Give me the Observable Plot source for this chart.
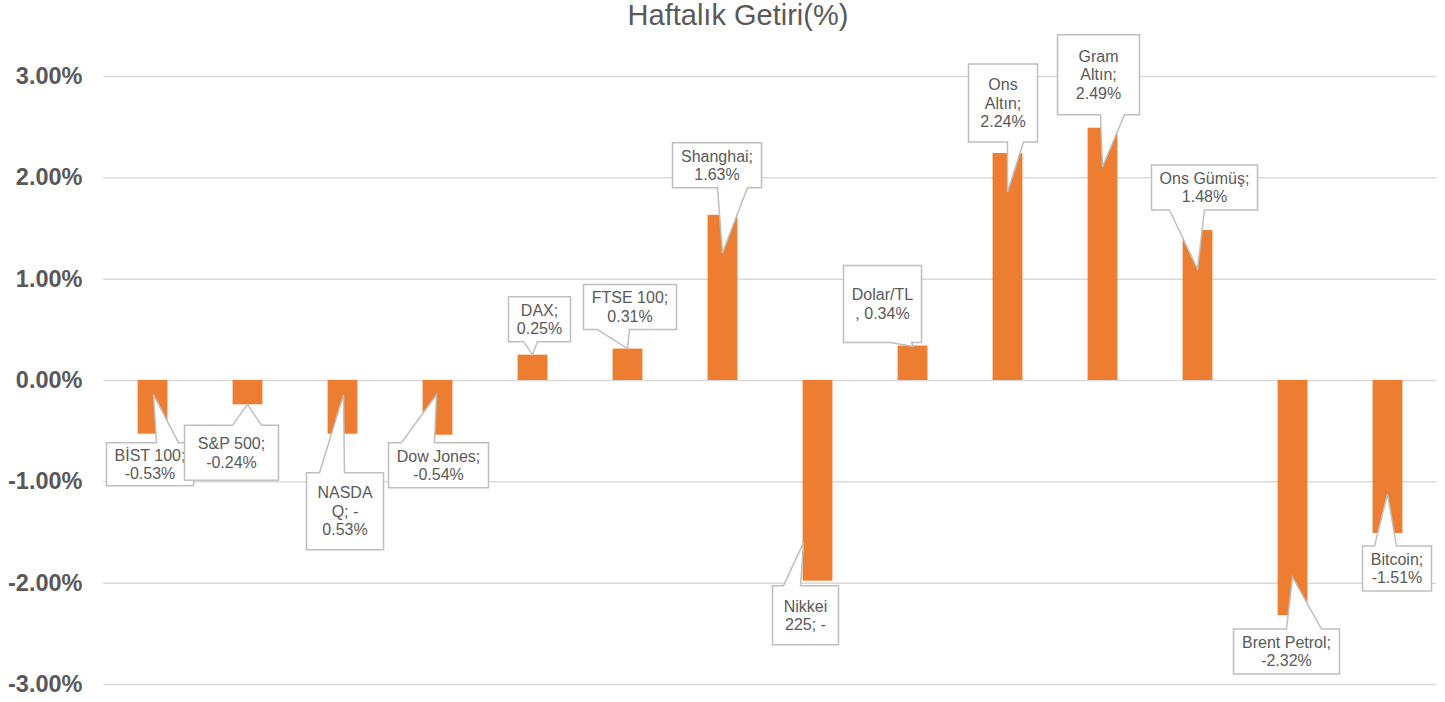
<!DOCTYPE html>
<html>
<head>
<meta charset="utf-8">
<script src="https://cdn.jsdelivr.net/npm/d3@7"></script>
<script src="https://cdn.jsdelivr.net/npm/@observablehq/plot@0.6"></script>
<style>
  html, body { margin: 0; padding: 0; background: #fff; }
  #wrap { position: relative; width: 1445px; height: 702px; }
  #title { position: absolute; top: 0; left: 31px; width: 1414px; text-align: center;
           font-family: "Liberation Sans", Arial, sans-serif; font-size: 29px; line-height: 30px;
           color: #595959; z-index: 2; pointer-events: none; }
  #chart { position: absolute; top: 0; left: 0; }
</style>
</head>
<body>
<div id="wrap">
  <div id="title">Haftalık Getiri(%)</div>
  <div id="chart"></div>
</div>
<script>
// ---- data ----
const categories = ["BİST 100", "S&P 500", "NASDAQ", "Dow Jones", "DAX", "FTSE 100", "Shanghai",
  "Nikkei 225", "Dolar/TL", "Ons Altın", "Gram Altın", "Ons Gümüş", "Brent Petrol", "Bitcoin"];
const returns = [-0.53, -0.24, -0.53, -0.54, 0.25, 0.31, 1.63, -1.98, 0.34, 2.24, 2.49, 1.48, -2.32, -1.51];
const yTicks = [-3, -2, -1, 0, 1, 2, 3];
const labelLines = [
  ["BİST 100;", "-0.53%"],
  ["S&P 500;", "-0.24%"],
  ["NASDA", "Q; -", "0.53%"],
  ["Dow Jones;", "-0.54%"],
  ["DAX;", "0.25%"],
  ["FTSE 100;", "0.31%"],
  ["Shanghai;", "1.63%"],
  ["Nikkei", "225; -"],
  ["Dolar/TL", ", 0.34%"],
  ["Ons", "Altın;", "2.24%"],
  ["Gram", "Altın;", "2.49%"],
  ["Ons Gümüş;", "1.48%"],
  ["Brent Petrol;", "-2.32%"],
  ["Bitcoin;", "-1.51%"]
];

// ---- callout layout (pixel offsets relative to the bar end) ----
// [boxLeft, boxTop, boxWidth, boxHeight, tipX, tipY, baseX1, baseX2]
const calloutLayout = [
  [-46, 9, 87, 43, 1, -39, 4, 26],
  [-63, 21, 94, 55, 0, 0, -15, 14],
  [-36, 39, 77, 77, 1, -39, -23, 2],
  [-49, 8, 100, 45, -1, -40, -36, -3],
  [-24, -58, 62, 45, 0, 0, -9, 5],
  [-44, -64, 93, 45, 0, 0, -30, 2],
  [-50, -72, 89, 45, 0, 38, -5, 25],
  [-45, 5, 66, 59, -14, -38, -34, -17],
  [-69, -80, 78, 77, 1, 1, -22, -1],
  [-39, -89, 69, 78, 0, 39, 0, 16],
  [-45, -93, 82, 80, 0, 39, -2, 22],
  [-46, -65, 106, 45, 0, 39, -28, 7],
  [-59, 14, 106, 45, 0, -38, -6, 29],
  [-25, 13, 69, 45, 0, -39, -13, 9]
];

const table = categories.map((c, i) => ({category: c, value: returns[i]}));
const fmt = d => d.toFixed(2) + "%";

function callouts(index, scales) {
  const x = scales.x, y = scales.y;
  let bw = typeof x.bandwidth === "function" ? x.bandwidth() : (x(categories[1]) - x(categories[0]));
  const g = d3.create("svg:g").attr("aria-label", "callouts");
  categories.forEach((c, i) => {
    const ax = x(c) + bw / 2;
    const ay = y(returns[i]);
    const [bl, bt, w, h, tx, ty, b1, b2] = calloutLayout[i];
    const x0 = ax + bl, y0 = ay + bt, x1 = x0 + w, y1 = y0 + h;
    const px = ax + tx, py = ay + ty;
    let d;
    if (py < y0) {
      d = `M${x0},${y0}L${ax + b1},${y0}L${px},${py}L${ax + b2},${y0}L${x1},${y0}L${x1},${y1}L${x0},${y1}Z`;
    } else {
      d = `M${x0},${y0}L${x1},${y0}L${x1},${y1}L${ax + b2},${y1}L${px},${py}L${ax + b1},${y1}L${x0},${y1}Z`;
    }
    g.append("path").attr("d", d).attr("fill", "#fff").attr("stroke", "#bfbfbf")
      .attr("stroke-width", 1.5).attr("stroke-linejoin", "miter");
    const lines = labelLines[i];
    const lh = 18.4;
    const cx = (x0 + x1) / 2, cy = (y0 + y1) / 2;
    const t = g.append("text").attr("text-anchor", "middle").attr("fill", "#595959")
      .attr("font-size", 16).attr("font-family", "Liberation Sans, Arial, sans-serif");
    lines.forEach((s, k) => {
      t.append("tspan").attr("x", cx).attr("y", cy + (k - (lines.length - 1) / 2) * lh).attr("dy", "0.35em").text(s);
    });
  });
  return g.node();
}

const plot = Plot.plot({
  width: 1445,
  height: 702,
  marginLeft: 103,
  marginRight: 9,
  marginTop: 76,
  marginBottom: 18,
  style: {fontFamily: "Liberation Sans, Arial, sans-serif", background: "#fff", overflow: "visible"},
  x: {domain: categories, padding: 0, axis: null},
  y: {domain: [-3, 3], axis: null},
  marks: [
    Plot.ruleY(yTicks, {stroke: "#d9d9d9", strokeWidth: 1.5}),
    Plot.text(yTicks, {y: d => d, text: d => fmt(d), frameAnchor: "left", textAnchor: "end", dx: -21,
      fontSize: 23.5, fontWeight: "bold", fill: "#595959"}),
    Plot.barY(table, {x: "category", y: "value", fill: "#ED7D31", insetLeft: 32.6, insetRight: 32.6}),
    callouts
  ]
});
document.getElementById("chart").appendChild(plot);
</script>
</body>
</html>
